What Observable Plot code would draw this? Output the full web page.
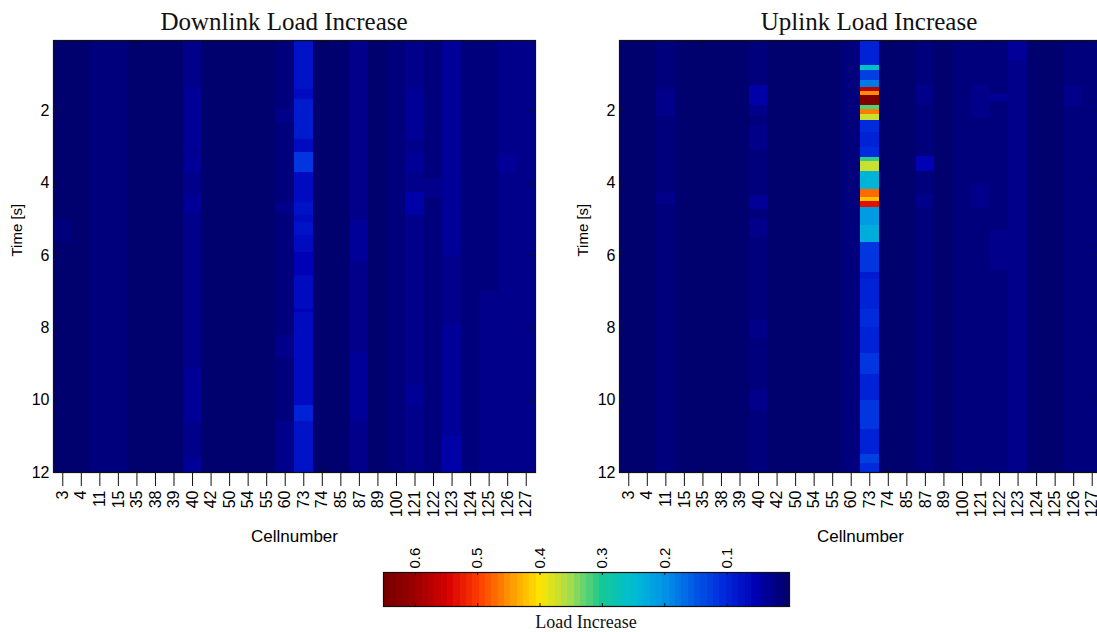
<!DOCTYPE html>
<html>
<head>
<meta charset="utf-8">
<script src="https://cdn.jsdelivr.net/npm/d3@7"></script>
<script src="https://cdn.jsdelivr.net/npm/@observablehq/plot@0.6"></script>
<style>
  html, body { margin: 0; padding: 0; background: #fff; }
  #root { position: relative; width: 1097px; height: 632px; overflow: hidden; background: #fff; }
  #root svg { position: absolute; overflow: visible; }
  .ttl { position: absolute; font-family: "Liberation Serif", "Times New Roman", serif; color: #111; white-space: nowrap; line-height: 1; transform: translateX(-50%); }
</style>
</head>
<body>
<div id="root">
  <div class="ttl" style="left:284px; top:9px; font-size:25px;">Downlink Load Increase</div>
  <div class="ttl" style="left:869px; top:9px; font-size:25px;">Uplink Load Increase</div>
  <div class="ttl" style="left:586px; top:613px; font-size:18px;">Load Increase</div>
</div>
<script>
// ---- data ----
const cells = ["3","4","11","15","35","38","39","40","42","50","54","55","60","73","74","85","87","89","100","121","122","123","124","125","126","127"];
const timeRange = [0.05, 12];
const yTicks = [2, 4, 6, 8, 10, 12];
const boxTickCells = ["35", "50", "74", "121", "126"];
const colorbarTicks = [0.1, 0.2, 0.3, 0.4, 0.5, 0.6];
const colorDomain = [0, 0.65];

// per-cell background level over the whole time range
const downBase = [0.008,0.01,0.02,0.012,0.008,0.008,0.008,0.026,0.006,0.006,0.006,0.006,0.016,0.07,0.006,0.008,0.026,0.01,0.014,0.03,0.02,0.035,0.018,0.018,0.028,0.026];
const upBase   = [0.01,0.01,0.012,0.01,0.01,0.01,0.01,0.018,0.01,0.01,0.01,0.01,0.014,0.1,0.008,0.01,0.02,0.01,0.014,0.02,0.018,0.025,0.01,0.01,0.012,0.012];

// [cell, t start, t end, load increase]
const downPatches = [
  ["73",0.05,1.4,0.08],["73",1.4,1.68,0.065],["73",1.68,2.78,0.085],["73",2.78,3.15,0.07],["73",3.15,3.7,0.12],
  ["73",3.7,4.53,0.07],["73",4.53,4.9,0.08],["73",4.9,5.09,0.065],["73",5.09,5.45,0.075],["73",5.45,5.92,0.065],
  ["73",5.92,6.56,0.055],["73",6.56,7.48,0.07],["73",7.48,7.57,0.055],["73",7.57,10.15,0.068],["73",10.15,10.6,0.095],["73",10.6,12,0.075],
  ["3",5.04,5.64,0.018],
  ["40",1.4,3.06,0.034],["40",3.15,3.7,0.038],["40",4.35,4.81,0.038],["40",9.14,10.6,0.033],["40",11.63,12,0.036],
  ["60",1.95,2.32,0.024],["60",4.53,4.81,0.028],["60",8.22,8.86,0.028],["60",10.6,12,0.024],
  ["87",0.05,1.1,0.03],["87",5.04,6.19,0.038],["87",8.68,10.6,0.032],
  ["121",1.4,2.78,0.038],["121",3.15,3.7,0.036],["121",4.26,4.9,0.043],["121",9.6,10.15,0.04],
  ["122",3.9,4.4,0.027],
  ["123",0.05,1.6,0.04],["123",2.0,2.5,0.04],["123",6.0,7.9,0.027],["123",11.0,12,0.047],
  ["125",7.0,12,0.021],
  ["126",3.2,3.7,0.036]
];
const upPatches = [
  ["73",0.05,0.75,0.1],["73",0.75,0.89,0.26],["73",0.89,1.17,0.13],["73",1.17,1.35,0.18],["73",1.35,1.47,0.57],
  ["73",1.47,1.57,0.45],["73",1.57,1.86,0.63],["73",1.86,1.95,0.32],["73",1.95,2.09,0.46],["73",2.09,2.27,0.37],
  ["73",2.27,2.6,0.11],["73",2.6,3.0,0.1],["73",3.0,3.29,0.11],["73",3.29,3.41,0.31],["73",3.41,3.66,0.37],
  ["73",3.66,4.17,0.24],["73",4.17,4.4,0.47],["73",4.4,4.49,0.42],["73",4.49,4.67,0.53],["73",4.67,5.18,0.21],
  ["73",5.18,5.64,0.23],["73",5.64,6.47,0.12],["73",6.47,6.65,0.09],["73",6.65,7.5,0.1],["73",7.5,8.0,0.11],
  ["73",8.0,8.7,0.1],["73",8.7,9.3,0.115],["73",9.3,10.0,0.1],["73",10.0,10.8,0.115],["73",10.8,11.5,0.1],
  ["73",11.5,11.75,0.13],["73",11.75,12,0.11],
  ["11",1.4,2.14,0.022],["11",3.3,3.5,0.02],["11",4.26,4.6,0.022],
  ["40",1.3,1.86,0.042],["40",1.86,2.14,0.03],["40",2.4,3.06,0.026],["40",4.35,4.72,0.032],["40",5.0,5.5,0.026],["40",7.8,8.3,0.028],["40",9.7,10.3,0.028],
  ["60",6.5,12,0.017],
  ["87",1.3,1.86,0.03],["87",3.25,3.66,0.052],["87",4.3,4.7,0.028],
  ["121",1.3,2.2,0.028],["121",4.0,4.7,0.026],
  ["122",1.55,1.75,0.032],["122",5.3,6.4,0.03],
  ["123",0.05,0.6,0.034],["123",4.0,4.7,0.029],
  ["126",1.3,1.9,0.022],["126",4.2,4.6,0.02]
];

// colours of the colour bar, from 0 to 0.65 in steps of 0.05
const colorStops = ["#00006e","#0000b4","#0028dc","#005ae6","#0096e6","#00bed2","#14c896","#a0dc50","#ffe600","#ff9600","#ff3c00","#d70000","#a00000","#780000"];
const colorLevels = 64;

// ---- drawing ----
const smooth = d3.piecewise(d3.interpolateRgb, colorStops);
const cmap = t => smooth(Math.min(colorLevels - 1, Math.max(0, Math.floor(t * colorLevels))) / (colorLevels - 1));
const colorOpts = {type: "linear", domain: colorDomain, interpolate: cmap, clamp: true};

function buildRows(base, patches) {
  const rows = cells.map((c, i) => ({cell: c, t0: timeRange[0], t1: timeRange[1], v: base[i]}));
  for (const [c, t0, t1, v] of patches) rows.push({cell: c, t0, t1, v});
  return rows;
}

function panel(base, patches) {
  const W = 560, H = 560, mL = 53, mR = 25, mT = 40, mB = 88;
  const pw = W - mL - mR, ph = H - mT - mB;
  return Plot.plot({
    width: W, height: H, marginLeft: mL, marginRight: mR, marginTop: mT, marginBottom: mB,
    style: {fontFamily: "'Liberation Sans', Arial, sans-serif", background: "transparent", color: "#000"},
    x: {type: "band", domain: cells, paddingInner: 0, paddingOuter: 0, align: 0.5, round: false},
    y: {domain: timeRange, reverse: true},
    color: colorOpts,
    marks: [
      Plot.barY(buildRows(base, patches), {x: "cell", y1: "t0", y2: "t1", fill: "v", shapeRendering: "crispEdges"}),
      Plot.ruleX(boxTickCells, {x: d => d, insetBottom: ph - 4, stroke: "#111"}),
      Plot.ruleX(boxTickCells, {x: d => d, insetTop: ph - 4, stroke: "#111"}),
      Plot.ruleY(yTicks, {y: d => d, insetRight: pw - 5, stroke: "#111"}),
      Plot.ruleY(yTicks, {y: d => d, insetLeft: pw - 5, stroke: "#111"}),
      Plot.frame({stroke: "#111", strokeWidth: 1.2}),
      Plot.axisX({tickRotate: -90, tickSize: 14, tickPadding: 4, fontSize: 16, label: null, stroke: "#111"}),
      Plot.axisY({ticks: yTicks, tickSize: 0, tickPadding: 4, fontSize: 16, label: null}),
      Plot.text(["Time [s]"], {text: d => d, frameAnchor: "left", dx: -36, rotate: -90, fontSize: 15}),
      Plot.text(["Cellnumber"], {text: d => d, frameAnchor: "bottom", dy: 69, fontSize: 17})
    ]
  });
}

const root = document.getElementById("root");
const left = panel(downBase, downPatches);
left.style.left = "0px"; left.style.top = "0px";
root.appendChild(left);
const right = panel(upBase, upPatches);
right.style.left = "566px"; right.style.top = "0px";
root.appendChild(right);

// colour bar (legend)
const step = (colorDomain[1] - colorDomain[0]) / colorLevels;
const bands = d3.range(colorLevels).map(k => ({x1: k * step, x2: (k + 1) * step, v: (k + 0.5) * step}));
const barH = 102 - 42 - 26;
const cbar = Plot.plot({
  width: 460, height: 102, marginLeft: 23, marginRight: 31, marginTop: 42, marginBottom: 26,
  style: {fontFamily: "'Liberation Sans', Arial, sans-serif", background: "transparent", color: "#000"},
  x: {domain: [0.651, 0]},
  color: colorOpts,
  marks: [
    Plot.rect(bands, {x1: "x1", x2: "x2", fill: "v", shapeRendering: "crispEdges"}),
    Plot.ruleX(colorbarTicks, {x: d => d, insetBottom: barH - 3, stroke: "#111"}),
    Plot.ruleX(colorbarTicks, {x: d => d, insetTop: barH - 3, stroke: "#111"}),
    Plot.frame({stroke: "#111", strokeWidth: 1.2}),
    Plot.axisX({anchor: "top", ticks: colorbarTicks, tickFormat: d => d.toFixed(1), tickRotate: -90, tickSize: 0, tickPadding: 4, fontSize: 15, label: null})
  ]
});
cbar.style.left = "360px"; cbar.style.top = "530px";
root.appendChild(cbar);
</script>
</body>
</html>
